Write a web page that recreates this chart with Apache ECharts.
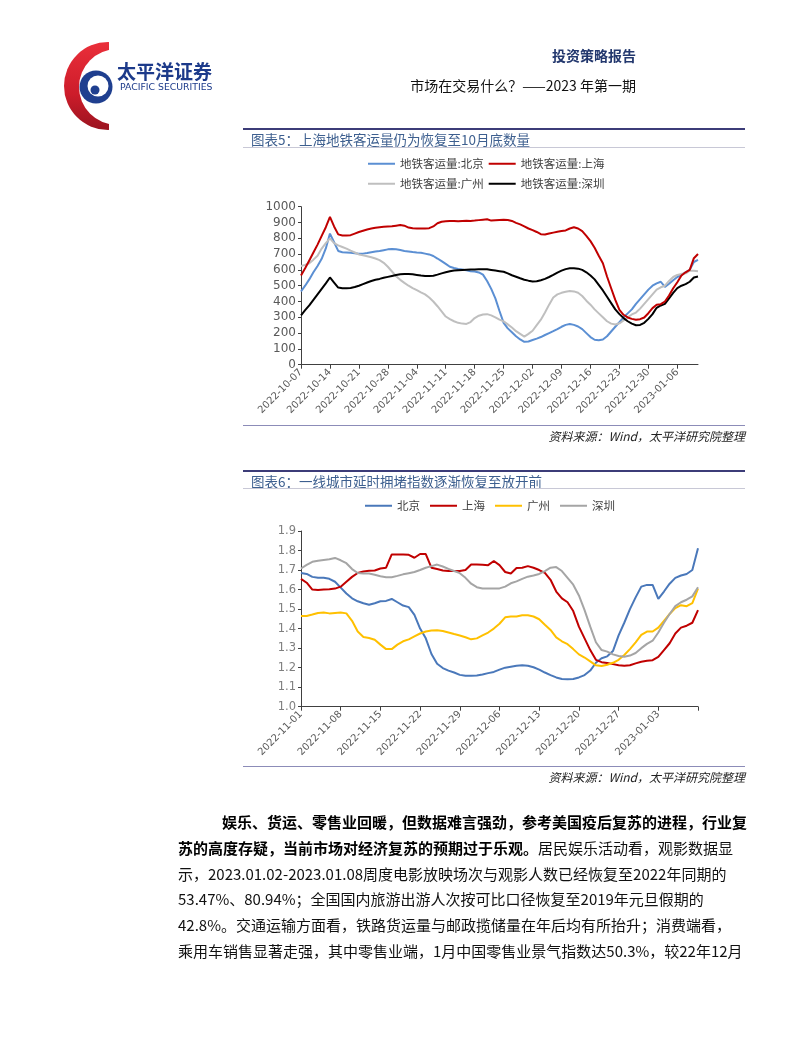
<!DOCTYPE html>
<html><head><meta charset="utf-8">
<script src="https://cdn.jsdelivr.net/npm/echarts@6/dist/echarts.min.js"></script>
<style>html,body{margin:0;padding:0;background:#fff;}#main{width:802px;height:1037px;}</style>
</head><body><div id="main"></div>
<script>
// ---------- Chart 5 data (daily, 2022-10-07 .. 2023-01-11) ----------
const names1 = ['地铁客运量:北京', '地铁客运量:上海', '地铁客运量:广州', '地铁客运量:深圳'];
const ticks1 = ['2022-10-07','2022-10-14','2022-10-21','2022-10-28','2022-11-04','2022-11-11','2022-11-18','2022-11-25','2022-12-02','2022-12-09','2022-12-16','2022-12-23','2022-12-30','2023-01-06'];
const beijing1 = [463,500,540,585,625,670,736,830,775,720,
  712,710,708,705,702,703,707,712,716,720,
  725,730,733,730,726,720,717,713,710,708,
  703,698,688,672,655,638,620,612,606,602,
  597,592,590,584,570,530,480,420,340,265,
  230,205,180,160,145,147,156,165,175,188,
  200,212,225,240,252,257,252,242,225,200,
  175,158,155,160,180,210,240,270,300,325,
  350,385,415,445,475,500,515,525,492,512,
  535,555,568,585,600,650,663];
const shanghai1 = [565,610,660,710,760,815,870,935,875,825,
  818,818,820,830,840,848,856,862,867,870,
  873,875,876,880,884,880,868,863,862,862,
  862,864,875,895,905,908,910,910,908,910,
  911,910,912,915,918,921,912,914,916,917,
  916,910,898,888,876,862,852,840,826,824,
  830,836,842,846,850,862,870,862,845,815,
  782,740,690,642,558,484,410,347,316,299,
  290,284,288,299,326,358,379,383,400,438,
  484,522,564,585,600,674,701];
const guangzhou1 = [625,632,642,665,690,735,770,800,770,755,
  745,735,722,710,698,692,686,680,672,662,
  645,620,590,560,537,518,500,485,472,458,
  445,425,400,370,338,305,288,275,265,260,
  258,270,295,310,318,320,312,300,285,274,
  255,235,212,195,178,195,215,250,285,330,
  380,425,445,455,462,467,464,455,435,405,
  380,350,325,300,275,260,255,262,280,300,
  318,330,355,385,415,445,475,490,500,530,
  555,568,575,578,595,595,592];
const shenzhen1 = [312,345,375,410,445,480,515,552,520,488,
  484,484,486,492,500,510,520,530,538,543,
  550,556,562,568,573,574,574,572,568,564,
  562,561,563,570,578,585,591,596,598,600,
  601,602,603,604,604,604,600,596,592,588,
  578,566,557,547,538,532,527,528,535,543,
  555,568,583,595,605,610,611,608,600,585,
  565,540,505,470,430,390,350,320,295,275,
  260,250,252,265,290,320,360,375,385,420,
  455,485,500,510,525,552,558];

// ---------- Chart 6 data (daily, 2022-11-01 .. 2023-01-10) ----------
const names2 = ['北京', '上海', '广州', '深圳'];
const ticks2 = ['2022-11-01','2022-11-08','2022-11-15','2022-11-22','2022-11-29','2022-12-06','2022-12-13','2022-12-20','2022-12-27','2023-01-03'];
const beijing2 = [1.685,1.680,1.665,1.660,1.660,1.655,1.640,1.610,1.580,1.555,
  1.540,1.530,1.522,1.530,1.540,1.542,1.552,1.535,1.518,1.510,
  1.470,1.400,1.350,1.270,1.220,1.198,1.185,1.175,1.163,1.158,
  1.158,1.160,1.165,1.172,1.178,1.190,1.200,1.205,1.210,1.212,
  1.210,1.202,1.190,1.175,1.162,1.150,1.142,1.140,1.142,1.150,
  1.162,1.185,1.225,1.248,1.258,1.285,1.365,1.430,1.500,1.560,
  1.615,1.624,1.624,1.552,1.590,1.630,1.660,1.672,1.680,1.700,
  1.812];
const shanghai2 = [1.655,1.635,1.600,1.598,1.600,1.602,1.605,1.615,1.640,1.665,
  1.685,1.693,1.696,1.698,1.708,1.712,1.780,1.780,1.780,1.778,
  1.763,1.782,1.782,1.712,1.705,1.698,1.695,1.695,1.695,1.700,
  1.728,1.728,1.727,1.725,1.746,1.725,1.690,1.682,1.710,1.712,
  1.720,1.712,1.700,1.685,1.650,1.590,1.555,1.535,1.490,1.410,
  1.350,1.290,1.240,1.228,1.224,1.218,1.212,1.210,1.212,1.222,
  1.230,1.235,1.238,1.255,1.290,1.325,1.375,1.405,1.415,1.430,
  1.495];
const guangzhou2 = [1.465,1.465,1.472,1.480,1.482,1.478,1.480,1.482,1.478,1.440,
  1.385,1.357,1.352,1.343,1.318,1.295,1.295,1.318,1.335,1.345,
  1.360,1.375,1.385,1.390,1.392,1.388,1.380,1.372,1.365,1.356,
  1.345,1.350,1.365,1.380,1.400,1.425,1.458,1.462,1.462,1.468,
  1.468,1.462,1.448,1.420,1.393,1.355,1.335,1.320,1.295,1.268,
  1.252,1.232,1.212,1.208,1.215,1.225,1.240,1.265,1.295,1.330,
  1.368,1.385,1.385,1.405,1.440,1.475,1.505,1.520,1.515,1.530,
  1.605];
const shenzhen2 = [1.708,1.726,1.742,1.748,1.752,1.755,1.762,1.750,1.735,1.705,
  1.685,1.682,1.682,1.676,1.668,1.663,1.663,1.670,1.678,1.684,
  1.690,1.700,1.712,1.720,1.728,1.718,1.706,1.695,1.684,1.660,
  1.630,1.612,1.605,1.605,1.605,1.606,1.615,1.632,1.642,1.655,
  1.666,1.672,1.680,1.695,1.712,1.715,1.695,1.660,1.625,1.570,
  1.495,1.410,1.330,1.290,1.282,1.268,1.260,1.256,1.262,1.275,
  1.300,1.322,1.338,1.380,1.430,1.475,1.515,1.535,1.548,1.565,
  1.612];

// ---------- page texts ----------
const headerRight1 = '投资策略报告';
const headerRight2 = '市场在交易什么？——2023 年第一期';
const title5 = '图表5：上海地铁客运量仍为恢复至10月底数量';
const title6 = '图表6：一线城市延时拥堵指数逐渐恢复至放开前';
const sourceText = '资料来源：Wind，太平洋研究院整理';
const paraLines = [
  [['b','娱乐、货运、零售业回暖，但数据难言强劲，参考美国疫后复苏的进程，行业复']],
  [['b','苏的高度存疑，当前市场对经济复苏的预期过于乐观。'],['n','居民娱乐活动看，观影数据显']],
  [['n','示，2023.01.02-2023.01.08周度电影放映场次与观影人数已经恢复至2022年同期的']],
  [['n','53.47%、80.94%；全国国内旅游出游人次按可比口径恢复至2019年元旦假期的']],
  [['n','42.8%。交通运输方面看，铁路货运量与邮政揽储量在年后均有所抬升；消费端看，']],
  [['n','乘用车销售显著走强，其中零售业端，1月中国零售业景气指数达50.3%，较22年12月']]
];

function dayList(start, n) {
  const out = [];
  const d = new Date(start + 'T00:00:00Z');
  for (let i = 0; i < n; i++) { out.push(d.toISOString().slice(0, 10)); d.setUTCDate(d.getUTCDate() + 1); }
  return out;
}
const dates1 = dayList('2022-10-07', beijing1.length);
const dates2 = dayList('2022-11-01', beijing2.length);

const CJK = '"Noto Sans CJK SC", sans-serif';
const NUM = '"DejaVu Sans", sans-serif';

const chart = echarts.init(document.getElementById('main'), null, {renderer: 'canvas'});

function txt(x, y, text, font, fill, align, extra) {
  return Object.assign({
    type: 'text', x: 0, y: 0,
    style: {x: x, y: y, text: text, font: font, fill: fill,
      align: align || 'left', verticalAlign: 'middle',
      textAlign: align || 'left', textVerticalAlign: 'middle'}
  }, extra || {});
}
function hline(x1, x2, y, color, w) {
  return {type: 'line', shape: {x1: x1, y1: y, x2: x2, y2: y}, style: {stroke: color, lineWidth: w}};
}

const graphics = [];
// logo: red crescent (outer circle minus inner circle, right part masked), blue ring
graphics.push({type: 'circle', shape: {cx: 108, cy: 86, r: 44},
  style: {fill: new echarts.graphic.LinearGradient(0, 0, 0, 1, [{offset: 0, color: '#ea2f3a'}, {offset: 0.6, color: '#cc1c2a'}, {offset: 1, color: '#9a1420'}])}});
graphics.push({type: 'circle', shape: {cx: 117, cy: 87, r: 38}, style: {fill: '#ffffff'}});
graphics.push({type: 'rect', shape: {x: 109, y: 38, width: 60, height: 100}, style: {fill: '#ffffff'}});
graphics.push({type: 'circle', shape: {cx: 96, cy: 87, r: 16.5}, style: {fill: '#1f3f8f'}});
graphics.push({type: 'circle', shape: {cx: 98, cy: 86, r: 10.5}, style: {fill: '#ffffff'}});
graphics.push({type: 'circle', shape: {cx: 95, cy: 90, r: 4.5}, style: {fill: '#1f3f8f'}});
graphics.push(txt(117, 72, '太平洋证券', 'bold 19px ' + CJK, '#1c3a8a', 'left'));
graphics.push(txt(120, 88, 'PACIFIC SECURITIES', '9.3px ' + NUM, '#1c3a8a', 'left'));
// header right
graphics.push(txt(636, 56, headerRight1, 'bold 14px ' + CJK, '#23386e', 'right'));
graphics.push(txt(636, 86, headerRight2, '14px ' + CJK, '#111111', 'right'));

// chart 5 frame
graphics.push(hline(243, 745, 129, '#3c3c78', 2));
graphics.push(txt(251, 140, title5, '13.5px ' + CJK, '#3d5f8f', 'left'));
graphics.push(hline(243, 745, 147.5, '#c8c8d6', 1));
graphics.push(hline(243, 745, 425.5, '#8c8cb8', 1));
graphics.push(txt(745, 436, sourceText, 'italic 12px ' + CJK, '#222222', 'right'));
// chart 6 frame
graphics.push(hline(243, 745, 471, '#3c3c78', 2));
graphics.push(txt(251, 482, title6, '13.5px ' + CJK, '#3d5f8f', 'left'));
graphics.push(hline(243, 745, 488.5, '#c8c8d6', 1));
graphics.push(hline(243, 745, 766.5, '#8c8cb8', 1));
graphics.push(txt(745, 777, sourceText, 'italic 12px ' + CJK, '#222222', 'right'));

// paragraph
const paraY = [822, 848, 874, 899, 925, 951];
paraLines.forEach(function (segs, i) {
  const text = segs.map(function (s) { return '{' + s[0] + '|' + s[1] + '}'; }).join('');
  graphics.push({type: 'text', style: {
    x: i === 0 ? 222 : 178, y: paraY[i], text: text,
    align: 'left', verticalAlign: 'middle', textAlign: 'left', textVerticalAlign: 'middle',
    rich: {
      b: {fontFamily: CJK, fontSize: 15, fontWeight: 'bold', fill: '#000', color: '#000'},
      n: {fontFamily: CJK, fontSize: 15, fontWeight: 'normal', fill: '#111', color: '#111'}
    }
  }});
});

const legendBase = {
  icon: 'rect', itemWidth: 27, itemHeight: 2, padding: 0, orient: 'horizontal',
  textStyle: {fontSize: 11.5, color: '#404040', fontFamily: CJK}
};

const option = {
  animation: false,
  backgroundColor: '#ffffff',
  graphic: {elements: graphics},
  legend: [
    Object.assign({}, legendBase, {data: [names1[0], names1[1]], left: 368, top: 158, itemGap: 5}),
    Object.assign({}, legendBase, {data: [names1[2], names1[3]], left: 368, top: 178, itemGap: 5}),
    Object.assign({}, legendBase, {data: names2, left: 365, top: 500, itemGap: 10})
  ],
  grid: [
    {left: 301, top: 206.7, width: 397, height: 158},
    {left: 301, top: 531, width: 397, height: 175.7}
  ],
  xAxis: [
    {type: 'category', gridIndex: 0, data: dates1, boundaryGap: false,
      axisLine: {lineStyle: {color: '#404040', width: 1}},
      axisTick: {show: true, length: 4, interval: function (i) { return i % 7 === 0; }, lineStyle: {color: '#404040'}},
      axisLabel: {interval: function (i, v) { return ticks1.indexOf(v) >= 0; }, rotate: 45, fontSize: 10, color: '#595959', fontFamily: NUM, margin: 6},
      splitLine: {show: false}},
    {type: 'category', gridIndex: 1, data: dates2, boundaryGap: false,
      axisLine: {lineStyle: {color: '#404040', width: 1}},
      axisTick: {show: true, length: 4, interval: function (i) { return i % 7 === 0; }, lineStyle: {color: '#404040'}},
      axisLabel: {interval: function (i, v) { return ticks2.indexOf(v) >= 0; }, rotate: 45, fontSize: 10, color: '#595959', fontFamily: NUM, margin: 6},
      splitLine: {show: false}}
  ],
  yAxis: [
    {type: 'value', gridIndex: 0, min: 0, max: 1000, interval: 100,
      axisLine: {show: true, lineStyle: {color: '#404040', width: 1}},
      axisTick: {show: true, length: 3, lineStyle: {color: '#404040'}},
      axisLabel: {fontSize: 12, color: '#595959', fontFamily: NUM, margin: 5,
        formatter: function (v) { return String(v); }},
      splitLine: {show: false}},
    {type: 'value', gridIndex: 1, min: 1.0, max: 1.9, interval: 0.1,
      axisLine: {show: true, lineStyle: {color: '#404040', width: 1}},
      axisTick: {show: true, length: 3, lineStyle: {color: '#404040'}},
      axisLabel: {fontSize: 11.5, color: '#7f7f7f', fontFamily: NUM, margin: 5,
        formatter: function (v) { return v.toFixed(1); }},
      splitLine: {show: false}}
  ],
  series: [
    {name: names1[0], type: 'line', xAxisIndex: 0, yAxisIndex: 0, data: beijing1, symbol: 'none', color: '#5b8fd3', lineStyle: {width: 2, color: '#5b8fd3'}},
    {name: names1[2], type: 'line', xAxisIndex: 0, yAxisIndex: 0, data: guangzhou1, symbol: 'none', color: '#bfbfbf', lineStyle: {width: 2, color: '#bfbfbf'}},
    {name: names1[3], type: 'line', xAxisIndex: 0, yAxisIndex: 0, data: shenzhen1, symbol: 'none', color: '#000000', lineStyle: {width: 2, color: '#000000'}},
    {name: names1[1], type: 'line', xAxisIndex: 0, yAxisIndex: 0, data: shanghai1, symbol: 'none', color: '#c00000', lineStyle: {width: 2, color: '#c00000'}},
    {name: names2[0], type: 'line', xAxisIndex: 1, yAxisIndex: 1, data: beijing2, symbol: 'none', color: '#4a78ba', lineStyle: {width: 2, color: '#4a78ba'}},
    {name: names2[1], type: 'line', xAxisIndex: 1, yAxisIndex: 1, data: shanghai2, symbol: 'none', color: '#c00000', lineStyle: {width: 2, color: '#c00000'}},
    {name: names2[2], type: 'line', xAxisIndex: 1, yAxisIndex: 1, data: guangzhou2, symbol: 'none', color: '#ffc000', lineStyle: {width: 2, color: '#ffc000'}},
    {name: names2[3], type: 'line', xAxisIndex: 1, yAxisIndex: 1, data: shenzhen2, symbol: 'none', color: '#a5a5a5', lineStyle: {width: 2, color: '#a5a5a5'}}
  ]
};
chart.setOption(option);
</script>
</body></html>
